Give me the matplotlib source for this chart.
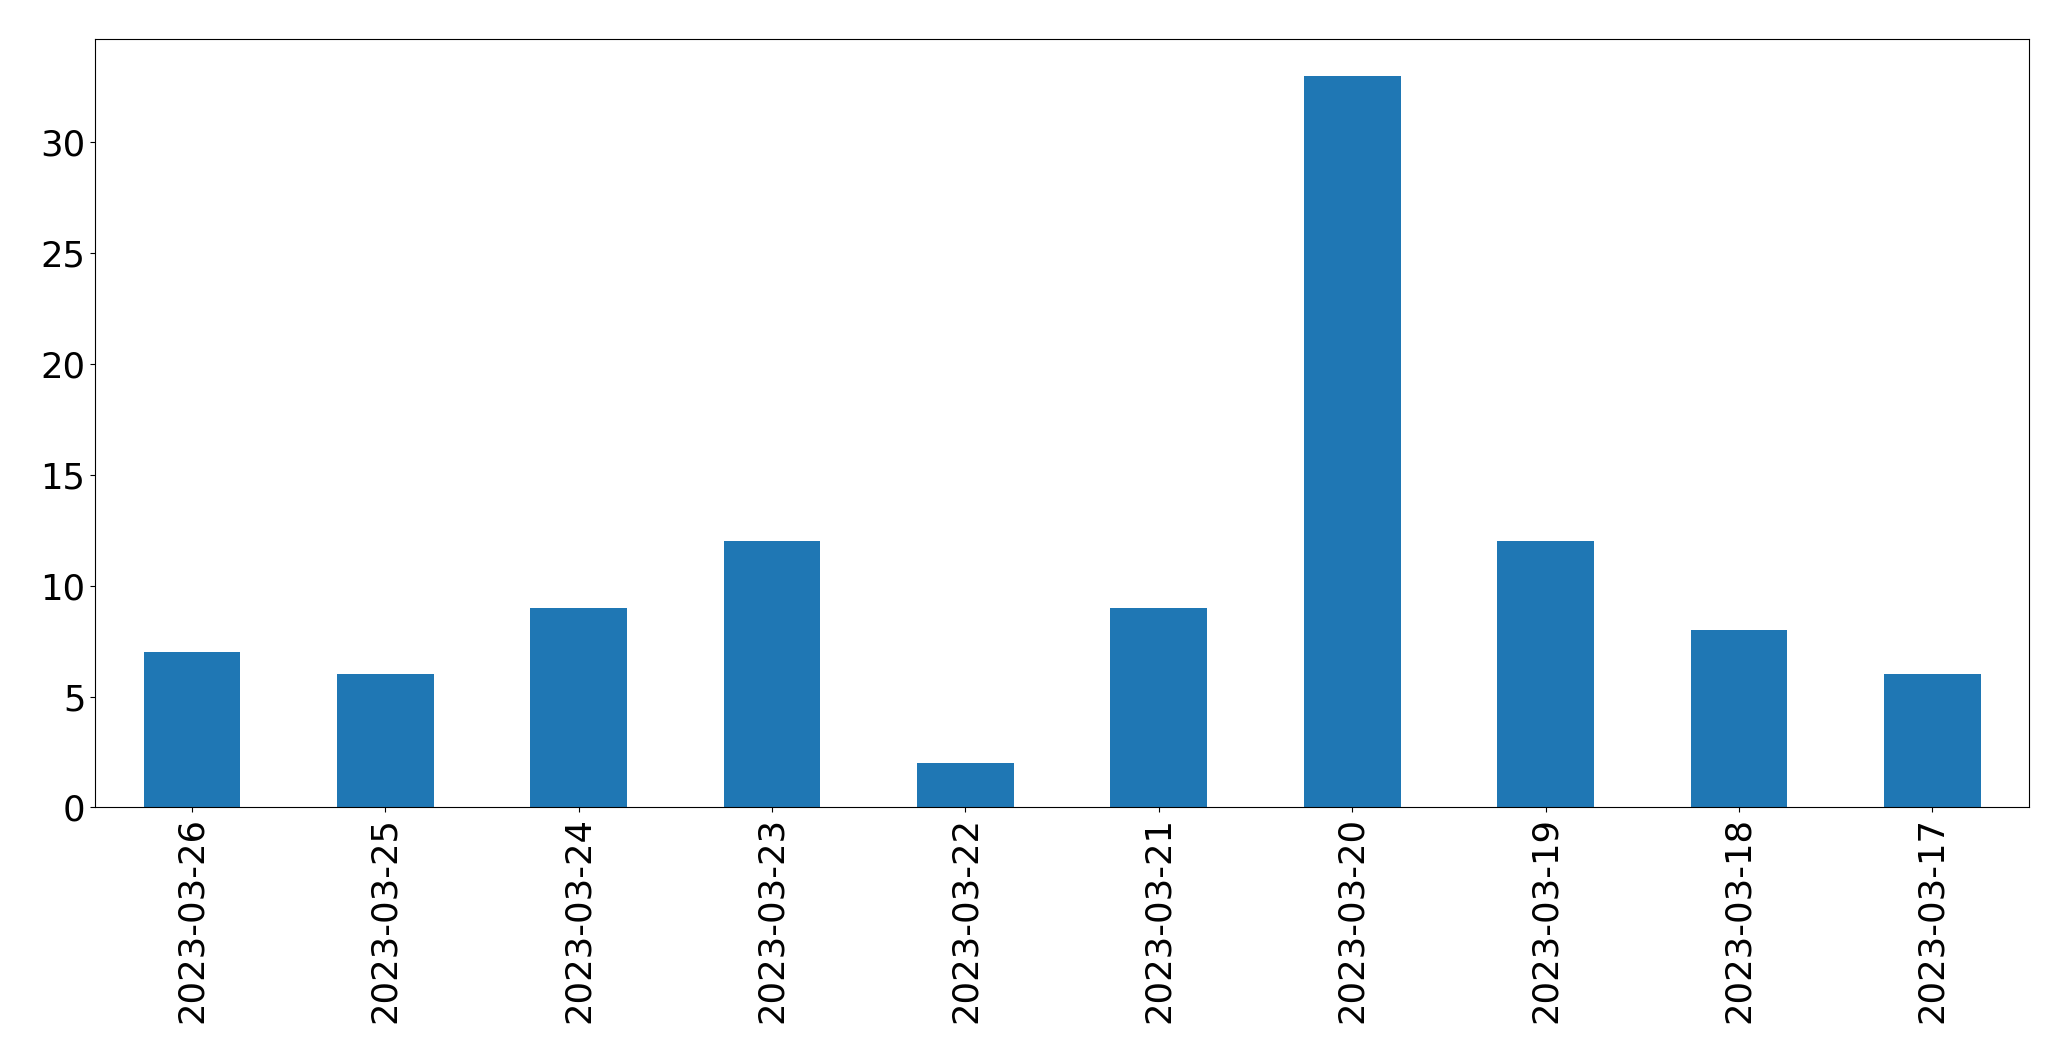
import matplotlib
matplotlib.use("Agg")
import matplotlib.pyplot as plt
import pandas as pd

dates = ["2023-03-26", "2023-03-25", "2023-03-24", "2023-03-23", "2023-03-22",
         "2023-03-21", "2023-03-20", "2023-03-19", "2023-03-18", "2023-03-17"]
counts = [7, 6, 9, 12, 2, 9, 33, 12, 8, 6]

s = pd.Series(counts, index=dates)

fig = plt.figure(figsize=(20.71, 10.61), dpi=100)
ax = fig.add_axes([0.046, 0.239, 0.9337, 0.724])
s.plot(kind="bar", ax=ax, color="#1f77b4")
ax.tick_params(axis="both", labelsize=25.5)
ax.set_xlabel("")

fig.savefig("out.png", dpi=100)
